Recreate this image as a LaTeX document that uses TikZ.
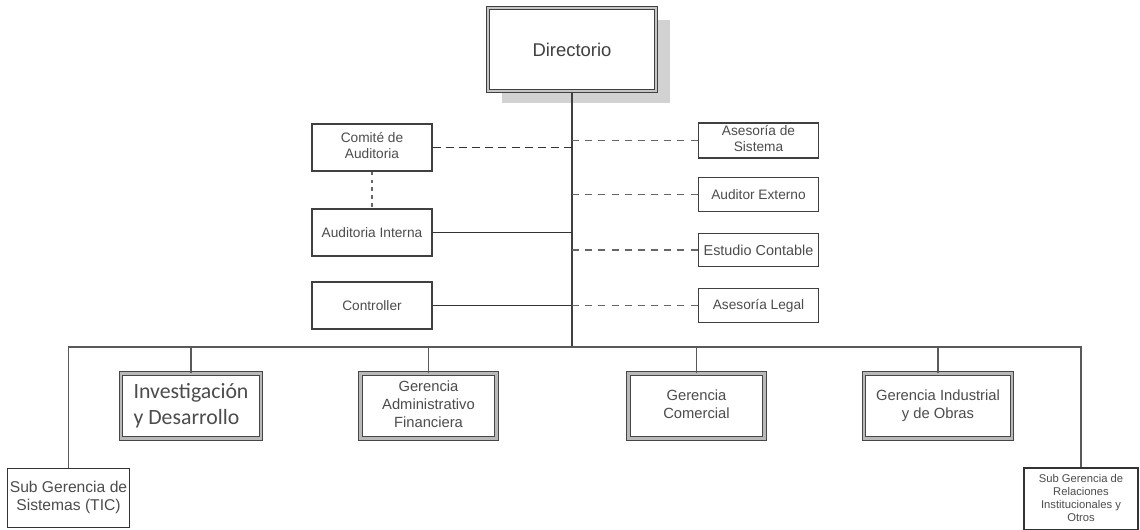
\documentclass[tikz,border=0pt]{standalone}
\usepackage{fontspec}
\setmainfont{Liberation Sans}
\newfontfamily\candarafont{Carlito}
\usepackage{tikz}
\usetikzlibrary{shadows}

\begin{document}
\begin{tikzpicture}[x=0.02cm, y=-0.02cm,
  top box/.style={draw=gray!50!black, line width=0.6pt, double=gray!45, double distance=1.6pt, fill=white, text=black!75, font=\fontsize{10.5}{12}\selectfont, minimum width=3.36cm, minimum height=1.66cm, drop shadow={shadow xshift=0.28cm, shadow yshift=-0.24cm, fill=gray!35, opacity=1}},
  staff box/.style={draw=black!75, line width=0.7pt, fill=white, text=black!70, font=\fontsize{7.8}{9}\selectfont, inner sep=1pt},
  unit box/.style={draw=gray!55!black, line width=0.5pt, double=gray!55, double distance=1.3pt, fill=white, text=black!70, font=\fontsize{8.4}{10}\selectfont, inner sep=1pt, minimum height=1.3cm},
  sub box/.style={draw=black!80, line width=1.1pt, fill=white, text=black!70, inner sep=0.5pt},
  trunk/.style={draw=black!75, line width=1.7pt},
  bus line/.style={draw=gray!70!black, line width=1pt},
  staff link/.style={draw=black!80, dashed, line width=1.1pt, dash pattern=on 4.5pt off 3pt},
  advice link/.style={draw=gray!80!black, line width=0.6pt, dash pattern=on 4pt off 3.5pt}]

\useasboundingbox (0,0) rectangle (1140,529);

% top of the chart
\node[top box] (directorio) at (572,49.5) {Directorio};
\coordinate (bus) at (572,347);

% staff on the left
\node[staff box, minimum width=2.4cm, minimum height=0.94cm] (comite) at (372,147.5) {\begin{tabular}{c}
Comité de \\
Auditoria
\end{tabular}};
\node[staff box, minimum width=2.4cm, minimum height=0.94cm] (auditoria interna) at (372,232.5) {Auditoria Interna};
\node[staff box, minimum width=2.4cm, minimum height=0.94cm] (controller) at (372,305.5) {Controller};

% advisers on the right
\node[staff box, minimum width=2.4cm, minimum height=0.68cm] (asesoria sistema) at (758.5,140.5) {\begin{tabular}{c}
Asesoría de \\
Sistema
\end{tabular}};
\node[staff box, minimum width=2.4cm, minimum height=0.68cm] (auditor externo) at (758.5,194.5) {Auditor Externo};
\node[staff box, minimum width=2.4cm, minimum height=0.66cm, font=\fontsize{8.2}{9}\selectfont] (estudio contable) at (758.5,250) {Estudio Contable};
\node[staff box, minimum width=2.4cm, minimum height=0.68cm] (asesoria legal) at (758.5,305.5) {Asesoría Legal};

% line units
\node[unit box, minimum width=2.78cm, font=\candarafont\fontsize{12.4}{15}\selectfont] (investigacion) at (191,406) {\begin{tabular}{l}
Investigación \\
y Desarrollo
\end{tabular}};
\node[unit box, minimum width=2.72cm] (gerencia administrativo) at (428.5,406) {\begin{tabular}{c}
Gerencia \\
Administrativo \\
Financiera
\end{tabular}};
\node[unit box, minimum width=2.72cm] (gerencia comercial) at (696.5,406) {\begin{tabular}{c}
Gerencia \\
Comercial
\end{tabular}};
\node[unit box, minimum width=2.74cm] (gerencia industrial) at (938,406) {\begin{tabular}{c}
Gerencia Industrial \\
y de Obras
\end{tabular}};

\node[sub box, minimum width=2.44cm, minimum height=1.18cm, font=\fontsize{8.9}{10.5}\selectfont] (sub sistemas) at (68.5,498) {\begin{tabular}{@{}c@{}}
Sub Gerencia de \\
Sistemas (TIC)
\end{tabular}};
\node[sub box, minimum width=2.28cm, minimum height=1.24cm, font=\fontsize{6.4}{7.4}\selectfont] (sub relaciones) at (1081,499) {\begin{tabular}{@{}c@{}}
Sub Gerencia de \\
Relaciones \\
Institucionales y \\
Otros
\end{tabular}};

% connectors
\draw[trunk] (directorio.south) -- (bus);
\draw[bus line] (sub sistemas.north) |- (bus) -| (sub relaciones.north);
\draw[bus line] (investigacion.north) -- (investigacion.north |- bus);
\draw[bus line] (gerencia administrativo.north) -- (gerencia administrativo.north |- bus);
\draw[bus line] (gerencia comercial.north) -- (gerencia comercial.north |- bus);
\draw[bus line] (gerencia industrial.north) -- (gerencia industrial.north |- bus);

\draw[staff link] (comite.east) -- (comite.east -| bus);
\draw[advice link, dash pattern=on 2pt off 2.5pt] (comite.south) -- (auditoria interna.north);
\draw[black!80, line width=1pt] (auditoria interna.east) -- (auditoria interna.east -| bus);
\draw[black!80, line width=1pt] (controller.east) -- (controller.east -| bus);

\draw[advice link] (asesoria sistema.west -| bus) -- (asesoria sistema.west);
\draw[advice link] (auditor externo.west -| bus) -- (auditor externo.west);
\draw[advice link] (estudio contable.west -| bus) -- (estudio contable.west);
\draw[advice link] (asesoria legal.west -| bus) -- (asesoria legal.west);
\end{tikzpicture}
\end{document}
